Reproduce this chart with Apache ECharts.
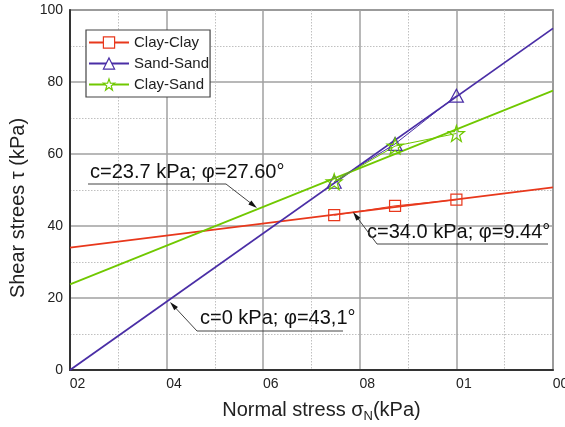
<!DOCTYPE html>
<html><head><meta charset="utf-8">
<script src="https://cdn.jsdelivr.net/npm/echarts@6/dist/echarts.min.js"></script>
<style>html,body{margin:0;padding:0;background:#fff}#c{width:565px;height:427px}</style>
</head><body><div id="c"></div>
<script>
const xTickLabels = {20:'02',40:'04',60:'06',80:'08',100:'01',120:'00'};
const pointX = [74.7, 87.3, 100];
const clayClay = [43.0, 45.6, 47.3];
const sandSand = [52.3, 62.8, 76.2];
const claySand = [52.3, 62.2, 65.7];
const fitX = [20, 120];
const fitClayClay = [34.0, 50.7];
const fitSandSand = [0, 94.9];
const fitClaySand = [23.8, 77.6];

const RED = '#e8381c', BLUE = '#4a2ea6', GREEN = '#70c800';
const FONT = '"Liberation Sans", Arial, sans-serif';
const STAR = 'path://M50,0 L61.8,35.1 L97.6,34.5 L69,56.2 L79.4,90.5 L50,69.9 L20.6,90.5 L31,56.2 L2.4,34.5 L38.2,35.1 Z';

function pairs(xs, ys){ return xs.map((x,i)=>[x, ys[i]]); }

const chart = echarts.init(document.getElementById('c'), null, {renderer:'canvas'});

function arrow(pts){
  const p = pts[pts.length-2], t = pts[pts.length-1];
  let dx=t[0]-p[0], dy=t[1]-p[1]; const L=Math.hypot(dx,dy); dx/=L; dy/=L;
  const bx=t[0]-9*dx, by=t[1]-9*dy, nx=-dy, ny=dx;
  return [
    {type:'polyline', shape:{points:pts.slice(0,-1).concat([[t[0]-4*dx,t[1]-4*dy]])}, style:{stroke:'#444', lineWidth:1, fill:null}, z:50},
    {type:'polygon', shape:{points:[[t[0],t[1]],[bx+2.5*nx,by+2.5*ny],[bx-2.5*nx,by-2.5*ny]]}, style:{fill:'#111'}, z:50}
  ];
}
function label(text, x, y){
  return {type:'text', x:x, y:y, style:{text:text, font:'20px '+FONT, fill:'#111', textVerticalAlign:'middle', textAlign:'left'}, z:50};
}

const graphics = [].concat(
  [label('c=23.7 kPa; φ=27.60°', 90, 172)],
  arrow([[88,184],[226,184],[257,208]]),
  [label('c=0 kPa; φ=43,1°', 200, 318)],
  arrow([[343,331],[197,331],[170,302]]),
  [label('c=34.0 kPa; φ=9.44°', 367, 232)],
  arrow([[548,244],[377,244],[353,212]]),
  [{type:'text', x:18, y:208, rotation:Math.PI/2, style:{text:'Shear strees τ (kPa)', font:'20px '+FONT, fill:'#222', textAlign:'center', textVerticalAlign:'middle'}}]
);

const option = {
  animation:false,
  backgroundColor:'#fff',
  grid:{left:70, right:12, top:10, bottom:57, containLabel:false, outerBoundsMode:'none', show:true, borderColor:'#666', borderWidth:1.5},
  legend:{
    orient:'vertical', left:86, top:30, padding:[5,1,5,2], itemGap:6, itemWidth:40, itemHeight:14,
    backgroundColor:'#fff', borderColor:'#444', borderWidth:1.2, borderRadius:0,
    textStyle:{fontSize:15, fontFamily:FONT, color:'#222'},
    data:[
      {name:'Clay-Clay', itemStyle:{color:'#fff', borderColor:RED, borderWidth:1.2}},
      {name:'Sand-Sand', itemStyle:{color:'#fff', borderColor:BLUE, borderWidth:1.2}},
      {name:'Clay-Sand', itemStyle:{color:'#fff', borderColor:GREEN, borderWidth:1.2}}
    ]
  },
  xAxis:{
    type:'value', min:20, max:120, interval:20,
    name:'{a|Normal stress σ}{s|N}{a|(kPa)}', nameLocation:'middle', nameGap:28,
    nameTextStyle:{rich:{a:{fontSize:20, fontFamily:FONT, color:'#222'}, s:{fontSize:13, fontFamily:FONT, color:'#222', padding:[12,0,0,0]}}, padding:[0,0,0,20]},
    axisLine:{show:true, lineStyle:{color:'#333', width:2}},
    axisTick:{show:false},
    axisLabel:{fontSize:14, fontFamily:FONT, color:'#222', margin:7, padding:[0,0,0,15], formatter:v=>xTickLabels[v]||''},
    splitLine:{show:true, lineStyle:{color:'#a0a0a0', width:1.5}},
    minorTick:{show:false, splitNumber:2},
    minorSplitLine:{show:true, lineStyle:{color:'#c0c0c0', width:1, type:[1.5,1.5]}}
  },
  yAxis:{
    type:'value', min:0, max:100, interval:20,
    axisLine:{show:true, lineStyle:{color:'#333', width:2}},
    axisTick:{show:false},
    axisLabel:{fontSize:14, fontFamily:FONT, color:'#222', margin:7},
    splitLine:{show:true, lineStyle:{color:'#a0a0a0', width:1.5}},
    minorTick:{show:false, splitNumber:2},
    minorSplitLine:{show:true, lineStyle:{color:'#c0c0c0', width:1, type:[1.5,1.5]}}
  },
  graphic: graphics,
  series:[
    {name:'fitCC', type:'line', data:pairs(fitX, fitClayClay), showSymbol:false, lineStyle:{color:RED, width:1.8}, itemStyle:{color:RED}, z:3},
    {name:'fitSS', type:'line', data:pairs(fitX, fitSandSand), showSymbol:false, lineStyle:{color:BLUE, width:1.8}, itemStyle:{color:BLUE}, z:3},
    {name:'fitCS', type:'line', data:pairs(fitX, fitClaySand), showSymbol:false, lineStyle:{color:GREEN, width:1.8}, itemStyle:{color:GREEN}, z:3},
    {name:'Clay-Clay', type:'line', data:pairs(pointX, clayClay), symbol:'rect', symbolSize:11,
     lineStyle:{color:RED, width:1}, itemStyle:{color:'rgba(255,255,255,0)', borderColor:RED, borderWidth:1.2}, z:5},
    {name:'Sand-Sand', type:'line', data:pairs(pointX, sandSand), symbol:'triangle', symbolSize:[14,13],
     lineStyle:{color:BLUE, width:1}, itemStyle:{color:'rgba(255,255,255,0)', borderColor:BLUE, borderWidth:1.2}, z:5},
    {name:'Clay-Sand', type:'line', data:pairs(pointX, claySand), symbol:STAR, symbolSize:16,
     lineStyle:{color:GREEN, width:1}, itemStyle:{color:'rgba(255,255,255,0)', borderColor:GREEN, borderWidth:1.2}, z:6}
  ]
};
chart.setOption(option);
</script></body></html>
